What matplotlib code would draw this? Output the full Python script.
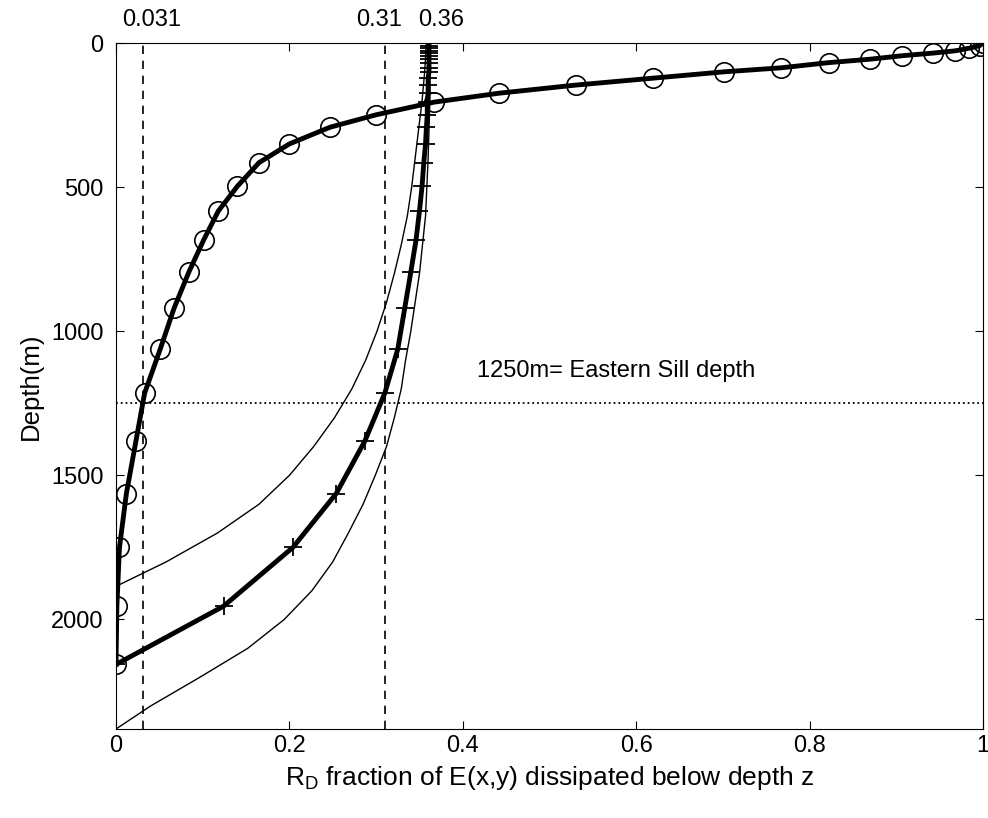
import numpy as np
import matplotlib.pyplot as plt
import matplotlib.transforms as mtransforms

plt.rcParams['font.family'] = ['Liberation Sans', 'DejaVu Sans']

# depth grid shared by both marked curves (m)
depth = [0, 9, 18, 27, 35, 44, 56, 68, 86, 100, 122, 146, 174, 205, 249, 292,
         350, 415, 497, 583, 684, 795, 920, 1062, 1215, 1381, 1563, 1750, 1954, 2156]

# circles
rd_circle = [1.0, 0.996, 0.984, 0.968, 0.942, 0.907, 0.870, 0.822, 0.767, 0.701,
             0.619, 0.530, 0.442, 0.367, 0.300, 0.247, 0.200, 0.165, 0.140, 0.118,
             0.101, 0.084, 0.067, 0.051, 0.033, 0.023, 0.012, 0.004, 0.001, 0.0]

# plus
rd_plus = [0.361, 0.361, 0.361, 0.361, 0.361, 0.361, 0.361, 0.361, 0.361, 0.361,
           0.360, 0.360, 0.360, 0.359, 0.359, 0.358, 0.357, 0.355, 0.353, 0.350,
           0.346, 0.340, 0.333, 0.325, 0.310, 0.287, 0.254, 0.204, 0.124, 0.0]

# thin bounding curves
upper_depth = [0, 100, 200, 300, 400, 500, 600, 700, 800, 900, 1000, 1100, 1200,
               1300, 1400, 1500, 1600, 1700, 1800, 1885]
upper_rd = [0.358, 0.356, 0.353, 0.349, 0.345, 0.341, 0.336, 0.329, 0.321, 0.312,
            0.301, 0.288, 0.272, 0.252, 0.228, 0.200, 0.165, 0.117, 0.058, 0.0]

lower_depth = [0, 200, 400, 600, 800, 900, 1000, 1100, 1200, 1300, 1400, 1500,
               1600, 1700, 1800, 1900, 2000, 2100, 2200, 2300, 2380]
lower_rd = [0.362, 0.362, 0.360, 0.357, 0.350, 0.345, 0.340, 0.334, 0.329, 0.321,
            0.312, 0.299, 0.285, 0.268, 0.250, 0.226, 0.194, 0.152, 0.097, 0.040, 0.0]

ref_vals = [0.031, 0.31, 0.36]
ref_labels = ['0.031', '0.31', '0.36']
sill_depth = 1250

fig = plt.figure(figsize=(9.88, 8.18), dpi=100)
ax = fig.add_axes([0.1174, 0.1088, 0.8776, 0.8386])

ax.plot(upper_rd, upper_depth, 'k-', lw=1.0)
ax.plot(lower_rd, lower_depth, 'k-', lw=1.0)
ax.plot(rd_plus, depth, 'k-', lw=3.5, marker='+', ms=13, mew=1.3)
ax.plot(rd_circle, depth, 'k-', lw=3.5, marker='o', ms=14, mfc='none', mew=1.2)

ax.axvline(ref_vals[0], color='k', ls='--', lw=1.2, dashes=(5, 4))
ax.axvline(ref_vals[1], color='k', ls='--', lw=1.2, dashes=(5, 4))
ax.axhline(sill_depth, color='k', ls=':', lw=1.3)
ax.text(0.416, 1160, '1250m= Eastern Sill depth', fontsize=17)

ax.set_xlim(0, 1)
ax.set_ylim(2380, 0)
ax.set_xticks([0, 0.2, 0.4, 0.6, 0.8, 1])
ax.set_xticklabels(['0', '0.2', '0.4', '0.6', '0.8', '1'])
ax.set_yticks([0, 500, 1000, 1500, 2000])
ax.tick_params(direction='in', top=True, right=True, length=6, labelsize=17)
ax.tick_params(axis='x', pad=4)
ax.tick_params(axis='y', pad=9)

# labels above the top axis, nudged as in the original
offsets = [6, -4, 9]
for v, lab, dx in zip(ref_vals, ref_labels, offsets):
    tr = ax.get_xaxis_transform() + mtransforms.ScaledTranslation(dx / 72, 0, fig.dpi_scale_trans)
    ax.text(v, 1.017, lab, transform=tr, ha='center', va='bottom', fontsize=17)

ax.set_xlabel(r'$\mathregular{R_D}$ fraction of E(x,y) dissipated below depth z', fontsize=19, labelpad=5)
ax.set_ylabel('Depth(m)', fontsize=18.5, labelpad=6)

fig.savefig('out.png', dpi=100)
